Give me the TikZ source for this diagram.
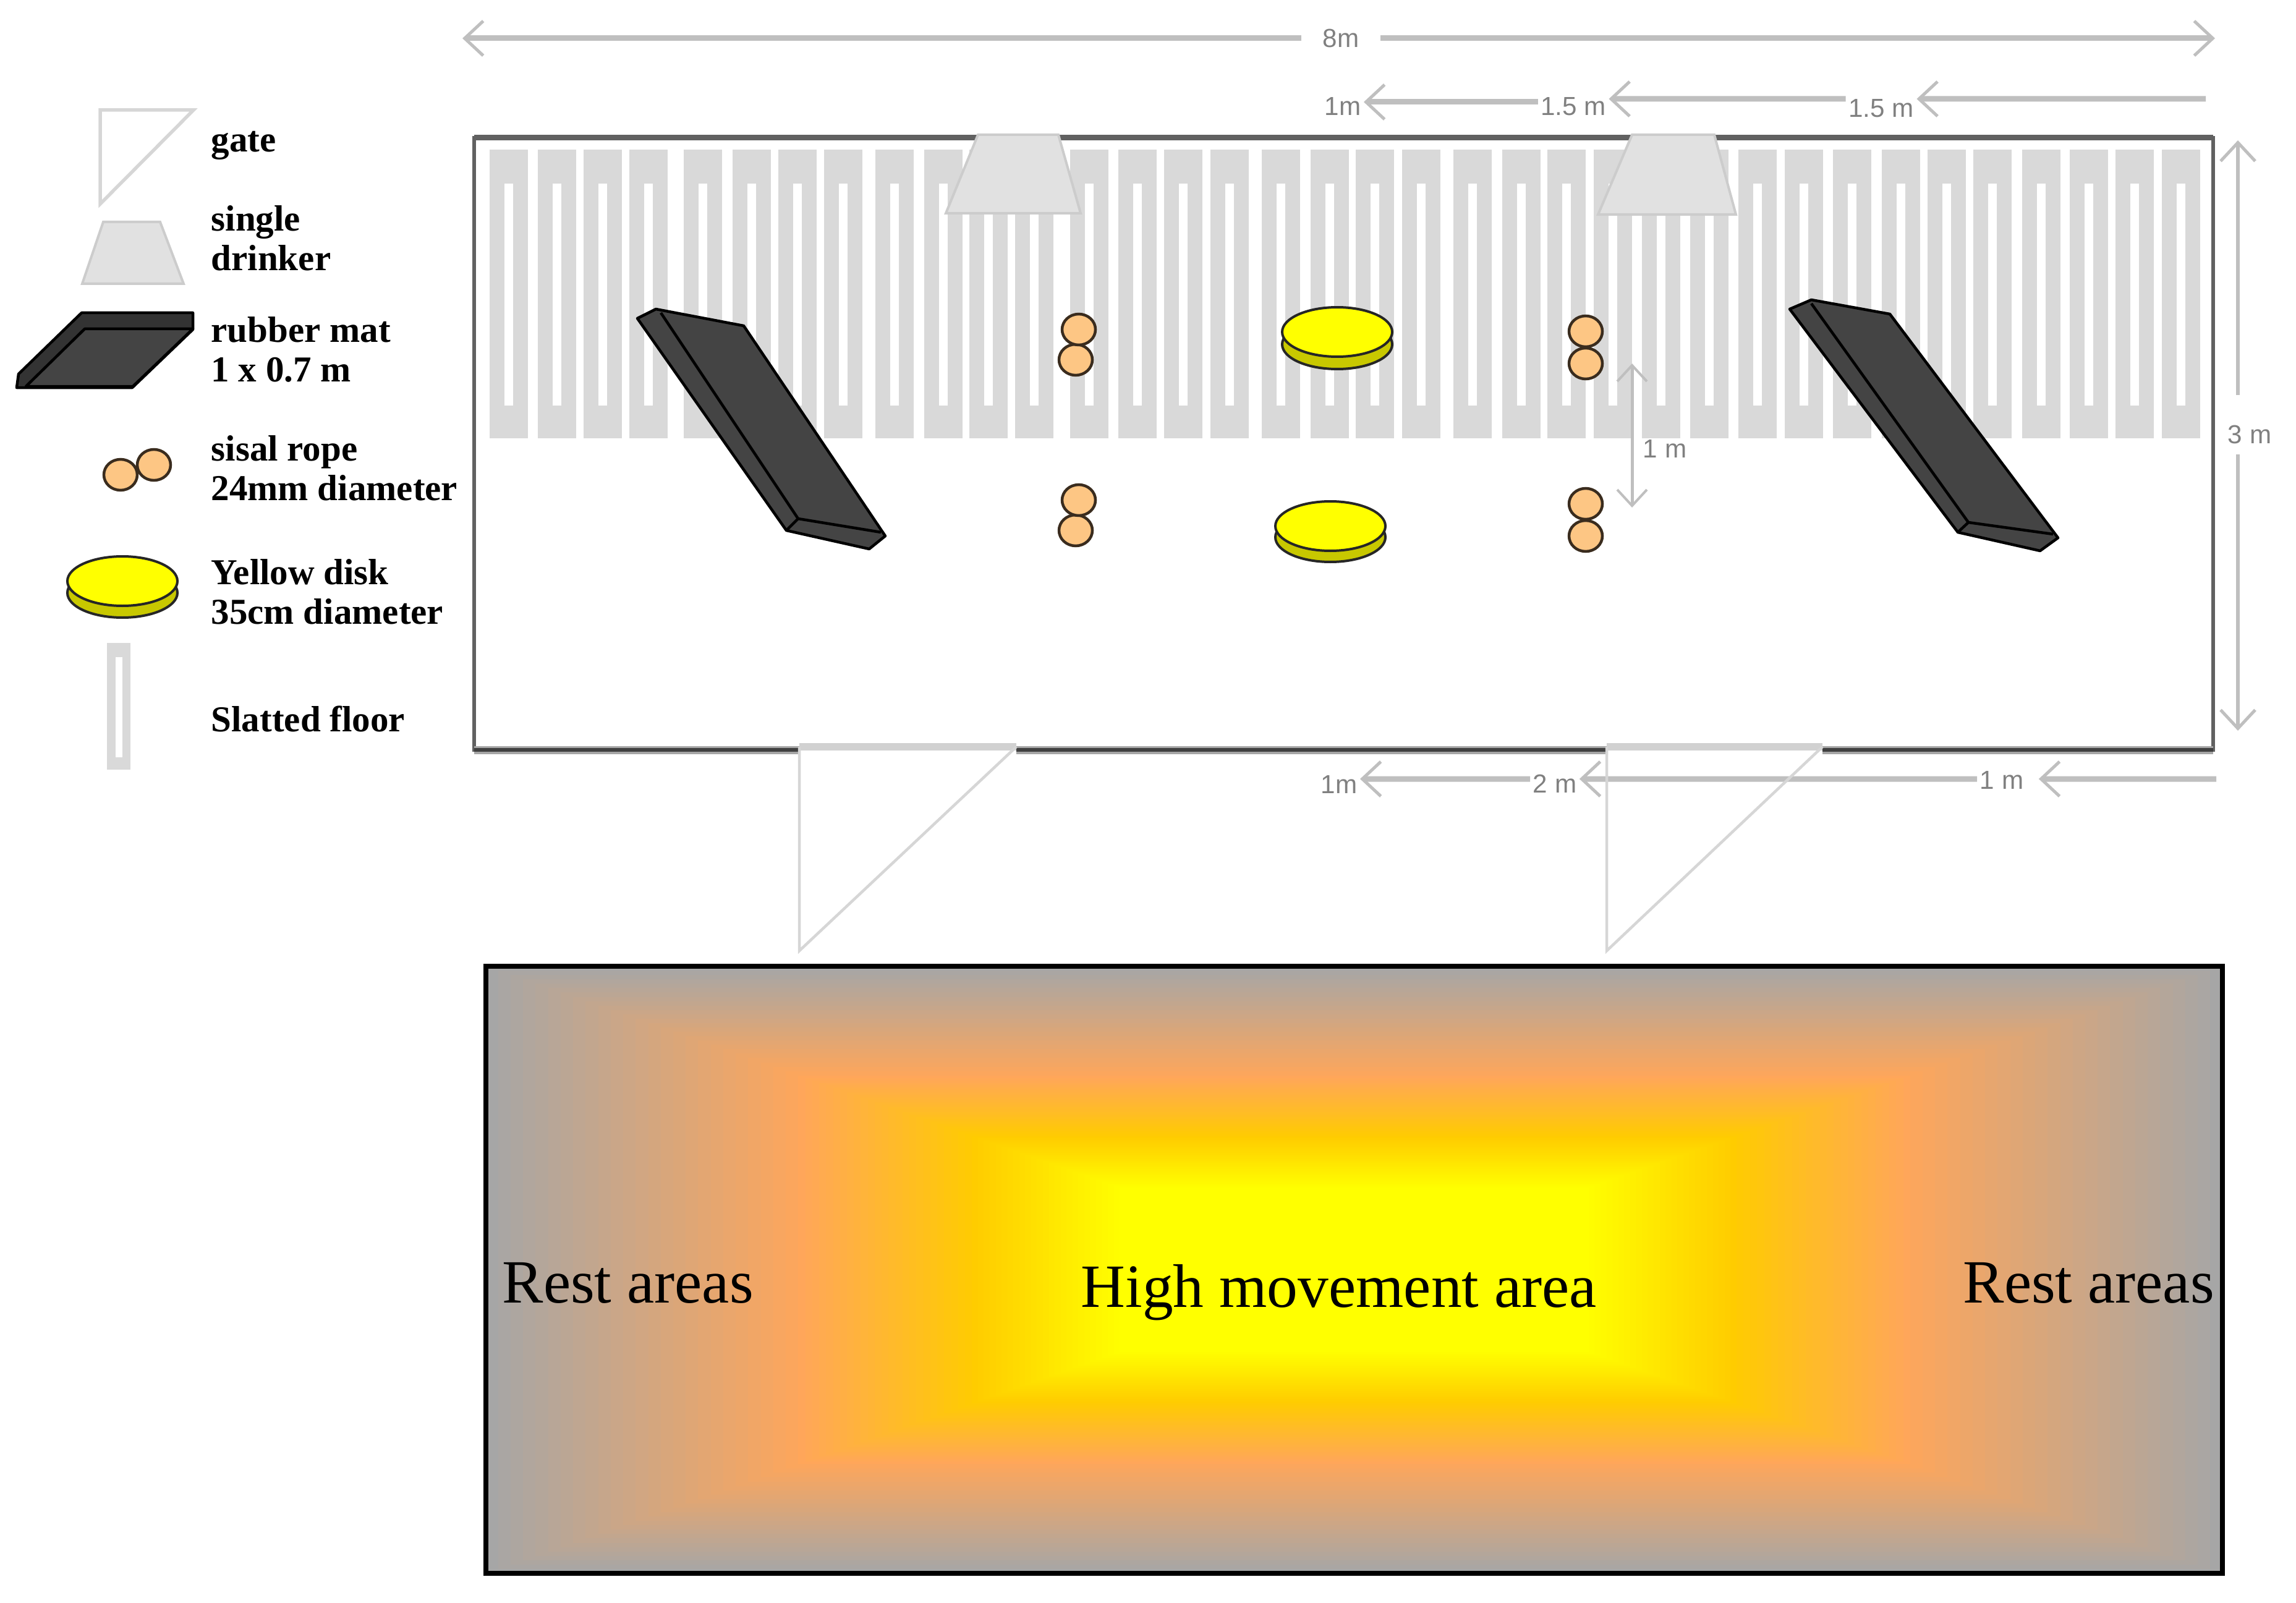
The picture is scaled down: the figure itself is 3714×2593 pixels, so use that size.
\documentclass[tikz,border=0pt]{standalone}
\usepackage{fontspec}
\setmainfont{Liberation Serif}
\newfontfamily\dimfont{Liberation Sans}
\usetikzlibrary{arrows.meta,shapes.geometric}
\definecolor{slatgrey}{HTML}{D9D9D9}
\definecolor{dimgrey}{HTML}{BFBFBF}
\definecolor{dimtext}{HTML}{808080}
\definecolor{gategrey}{HTML}{D6D6D6}
\definecolor{drinkfill}{HTML}{E1E1E1}
\definecolor{drinkline}{HTML}{CCCCCC}
\definecolor{matgrey}{HTML}{444444}
\definecolor{ropefill}{HTML}{FDC684}
\definecolor{ropeline}{HTML}{3A2C1E}
\definecolor{diskyellow}{HTML}{FFFF00}
\definecolor{diskshade}{HTML}{C8C800}
\definecolor{heatgrey}{HTML}{A6A6A6}
\definecolor{heatorange}{HTML}{FFA65A}
\definecolor{heatamber}{HTML}{FFCC00}
\tikzset{
	dimline/.style={color=dimgrey, line width=0.9mm, -{Straight Barb[length=3mm,width=5.6mm,line width=0.5mm]}},
	dimthin/.style={color=dimgrey, line width=0.5mm, {Straight Barb[length=2.6mm,width=4.8mm,line width=0.4mm]}-{Straight Barb[length=2.6mm,width=4.8mm,line width=0.4mm]}},
	dimlabel/.style={text=dimtext, inner sep=0.4mm, font=\dimfont\fontsize{12}{14}\selectfont},
	legendlabel/.style={anchor=west, align=left, inner sep=0pt, font=\bfseries\fontsize{16.8}{18.2}\selectfont},
	zonelabel/.style={anchor=base west, inner sep=0pt, font=\fontsize{28.3}{32}\selectfont},
	gateline/.style={draw=gategrey, line width=0.45mm},
	drinker/.style={fill=drinkfill, draw=drinkline, line width=0.4mm},
	matface/.style={fill=matgrey, draw=black, line width=0.45mm, line join=round},
	rope/.style={ellipse, draw=ropeline, fill=ropefill, line width=0.45mm, inner sep=0pt, minimum width=5.4mm, minimum height=5mm},
	disktop/.style={ellipse, draw=black!85, fill=diskyellow, line width=0.4mm, inner sep=0pt, minimum width=17.8mm, minimum height=8mm},
	disklow/.style={disktop, fill=diskshade}
}
\begin{document}
\begin{tikzpicture}[x=0.1mm, y=-0.1mm]
	\useasboundingbox (0,0) rectangle (3714,2593);

	% floor slats
	\foreach \s in {792,870,944,1018,1106,1185,1259,1333,1416,1495,1568,1642,1731,1809,1883,1958,2041,2120,2193,2268,2351,2430,2503,2578,2656,2734,2812,2887,2965,3044,3118,3192,3271,3348,3422,3497} {
		\fill[slatgrey] (\s,242) rectangle ({\s+62},709);
		\fill[white] ({\s+24},297) rectangle ({\s+38},656);
	}

	% room walls
	\draw[color=black!62, line width=0.6mm] (767,223) rectangle (3580,1213);
	\draw[color=black!62, line width=0.9mm] (767,223) -- (3580,223);
	\draw[color=black!35, line width=1.3mm] (767,1213) -- (3580,1213);
	\draw[color=black!75, line width=0.6mm] (767,1213) -- (3580,1213);

	\draw[drinker] (1582,218) -- (1712,218) -- (1748,345) -- (1530,345) -- cycle;
	\draw[drinker] (2640,218) -- (2773,218) -- (2808,347) -- (2585,347) -- cycle;

	% mats
	\draw[matface] (1031,515) -- (1061,500) -- (1203,527) -- (1432,867) -- (1406,888) -- (1272,858) -- cycle;
	\draw[matface] (1069,506) -- (1291,839) -- (1425,861);
	\draw[matface] (1291,839) -- (1272,858);
	\draw[matface] (2895,500) -- (2930,485) -- (3057,508) -- (3329,870) -- (3300,891) -- (3167,861) -- cycle;
	\draw[matface] (2930,491) -- (3184,845) -- (3321,864);
	\draw[matface] (3184,845) -- (3167,861);

	% ropes
	\node[rope] (ropeAb) at (1740,582) {};
	\node[rope] (ropeAa) at (1745,533) {};
	\node[rope] (ropeBb) at (1740,858) {};
	\node[rope] (ropeBa) at (1745,809) {};
	\node[rope] (ropeCb) at (2565,588) {};
	\node[rope] (ropeCa) at (2565,536) {};
	\node[rope] (ropeDb) at (2565,867) {};
	\node[rope] (ropeDa) at (2565,815) {};

	% disks
	\node[disklow] (diskAlow) at (2163,557) {};
	\node[disktop] (diskA) at (2163,537) {};
	\node[disklow] (diskBlow) at (2152,869) {};
	\node[disktop] (diskB) at (2152,851) {};

	% dimensions
	\node[dimlabel, inner xsep=3.4mm] (dimTotal) at (2169,62) {8m};
	\coordinate (dimTotalL) at (748,62);
	\coordinate (dimTotalR) at (3583,62);
	\draw[dimline] (dimTotal) -- (dimTotalL);
	\draw[dimline] (dimTotal) -- (dimTotalR);

	\node[dimlabel] (topC) at (3043,175) {1.5 m};
	\node[dimlabel] (topB) at (2545,172) {1.5 m};
	\node[dimlabel] (topA) at (2172,172) {1m};
	\coordinate (topEnd) at (3568,160);
	\draw[dimline] (topEnd) -- ([yshift=1.5mm]topC.east);
	\draw[dimline] ([yshift=1.5mm]topC.west) -- ([yshift=1.2mm]topB.east);
	\draw[dimline] ([yshift=0.7mm]topB.west) -- ([yshift=0.7mm]topA.east);

	\node[dimlabel] (lowC) at (3238,1262) {1 m};
	\node[dimlabel] (lowB) at (2515,1268) {2 m};
	\node[dimlabel] (lowA) at (2166,1269) {1m};
	\coordinate (lowEnd) at (3585,1260);
	\draw[dimline] (lowEnd) -- ([xshift=2mm,yshift=0.2mm]lowC.east);
	\draw[dimline] ([yshift=0.2mm]lowC.west) -- ([yshift=0.8mm]lowB.east);
	\draw[dimline] ([yshift=0.8mm]lowB.west) -- ([yshift=0.9mm]lowA.east);

	\node[dimlabel] (sideLabel) at (3639,703) {3 m};
	\coordinate (sideTop) at (3620,227);
	\coordinate (sideUp) at (3620,639);
	\coordinate (sideDown) at (3620,735);
	\coordinate (sideBottom) at (3620,1182);
	\draw[dimline, line width=0.6mm] (sideUp) -- (sideTop);
	\draw[dimline, line width=0.6mm] (sideDown) -- (sideBottom);

	\node[dimlabel] (midLabel) at (2693,726) {1 m};
	\coordinate (midTop) at (2640,588);
	\coordinate (midBottom) at (2640,821);
	\draw[dimthin] (midTop) -- (midBottom);

	% gates
	\foreach \g/\h in {1293/1644, 2599/2948} {
		\fill[white] (\g,1198) rectangle (\h,1222);
		\fill[color=black!18] (\g,1202) rectangle (\h,1214);
		\draw[gateline] (\g,1208) -- (\g,1538) -- (\h,1208);
	}

	% legend
	\draw[gateline, line width=0.55mm] (162,178) -- (313,178) -- (162,330) -- cycle;
	\node[legendlabel] (lblGate) at (341,235) {gate};

	\draw[drinker] (167,359) -- (259,359) -- (297,459) -- (133,459) -- cycle;
	\node[legendlabel] (lblDrinker) at (341,385) {single\\drinker};

	\draw[matface, fill=black!80] (132,506) -- (312,506) -- (312,533) -- (214,627) -- (27,627) -- (30,605) -- cycle;
	\draw[matface] (137,532) -- (312,532) -- (215,625) -- (42,625) -- cycle;
	\node[legendlabel] (lblMat) at (341,565) {rubber mat\\1 x 0.7 m};

	\node[rope] (ropeKeyA) at (195,768) {};
	\node[rope] (ropeKeyB) at (249,752) {};
	\node[legendlabel] (lblRope) at (341,757) {sisal rope\\24mm diameter};

	\node[disklow] (diskKeyLow) at (198,959) {};
	\node[disktop] (diskKey) at (198,940) {};
	\node[legendlabel] (lblDisk) at (341,957) {Yellow disk\\35cm diameter};

	\fill[slatgrey] (173,1040) rectangle (211,1245);
	\fill[white] (187,1063) rectangle (198,1225);
	\node[legendlabel] (lblSlat) at (341,1163) {Slatted floor};

	% movement map
	\foreach \a/\b/\ca/\cb in {1/0.64/heatgrey/heatorange, 0.64/0.44/heatorange/heatamber, 0.44/0.27/heatamber/diskyellow} {
		\foreach \pct in {0,4,...,100} {
			\pgfmathsetmacro\zt{\a+(\b-\a)*\pct/100}
			\fill[fill=\cb!\pct!\ca] ({2190.5-\zt*1405},{2054-\zt*491}) rectangle ({2190.5+\zt*1405},{2054+\zt*491});
		}
	}
	\draw[line width=0.85mm] (786,1563) rectangle (3595,2545);
	\node[zonelabel] (restL) at (812,2107) {Rest areas};
	\node[zonelabel] (moveZone) at (1748,2114) {High movement area};
	\node[zonelabel] (restR) at (3175,2107) {Rest areas};
\end{tikzpicture}
\end{document}
